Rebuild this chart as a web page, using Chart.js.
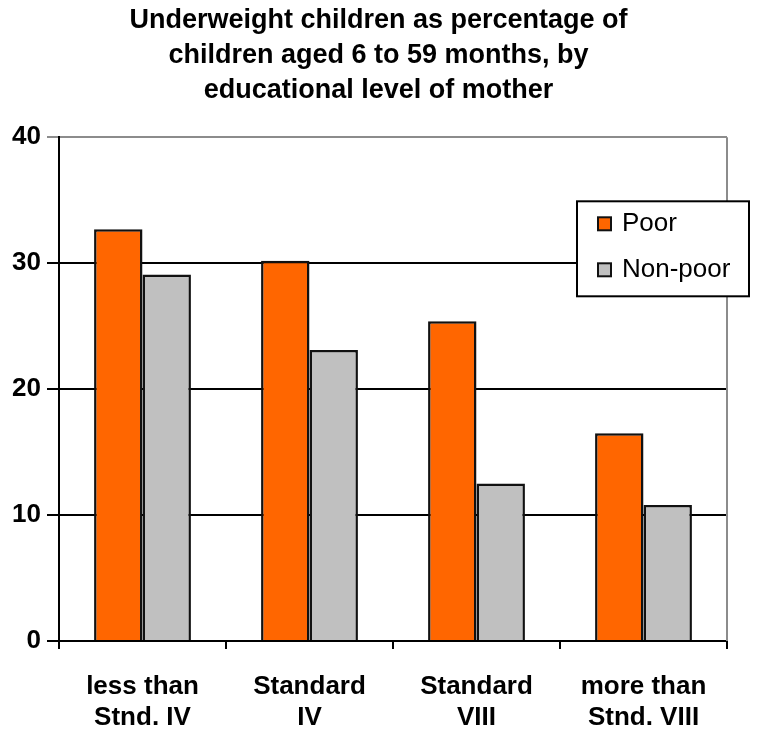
<!DOCTYPE html>
<html>
<head>
<meta charset="utf-8">
<script src="https://cdn.jsdelivr.net/npm/chart.js@4/dist/chart.umd.min.js"></script>
<style>
  body { margin: 0; background: #fff; }
  #wrap { width: 757px; height: 736px; }
</style>
</head>
<body>
<div id="wrap"><canvas id="myChart"></canvas></div>
<script>
// chart data
const titleLines = ['Underweight children as percentage of', 'children aged 6 to 59 months, by', 'educational level of mother'];
const categories = [['less than', 'Stnd. IV'], ['Standard', 'IV'], ['Standard', 'VIII'], ['more than', 'Stnd. VIII']];
const poor = [32.7, 30.2, 25.4, 16.5];
const nonPoor = [29.1, 23.1, 12.5, 10.8];
const seriesNames = ['Poor', 'Non-poor'];
const yTicks = [0, 10, 20, 30, 40];

const font = 'Liberation Sans, Arial, sans-serif';

// draws the gray right border and the boxed legend inside the plot
const frameAndLegend = {
    id: 'frameAndLegend',
    beforeDatasetsDraw(chart) {
        const { ctx, chartArea } = chart;
        ctx.save();
        ctx.strokeStyle = '#8c8c8c';
        ctx.lineWidth = 2;
        ctx.beginPath();
        ctx.moveTo(chartArea.right, chartArea.top);
        ctx.lineTo(chartArea.right, chartArea.bottom);
        ctx.stroke();
        ctx.restore();
    },
    afterDraw(chart) {
        const { ctx, chartArea } = chart;
        const x = chartArea.right - 150, y = chartArea.top + 64;
        const w = 172, h = 95;
        ctx.save();
        ctx.fillStyle = '#fff';
        ctx.fillRect(x, y, w, h);
        ctx.strokeStyle = '#000';
        ctx.lineWidth = 2;
        ctx.strokeRect(x, y, w, h);
        chart.data.datasets.forEach((ds, i) => {
            const cy = y + 23 + i * 46;
            ctx.fillStyle = ds.backgroundColor;
            ctx.fillRect(x + 21, cy - 7, 13, 13);
            ctx.strokeStyle = '#111';
            ctx.lineWidth = 2;
            ctx.strokeRect(x + 21, cy - 7, 13, 13);
            ctx.fillStyle = '#000';
            ctx.font = '26px ' + font;
            ctx.textBaseline = 'middle';
            ctx.fillText(ds.label, x + 45, cy);
        });
        ctx.restore();
    }
};

const config = {
    type: 'bar',
    data: {
        labels: categories,
        datasets: [
            { label: seriesNames[0], data: poor, backgroundColor: '#ff6600', borderColor: '#111', borderWidth: 2.5 },
            { label: seriesNames[1], data: nonPoor, backgroundColor: '#c0c0c0', borderColor: '#111', borderWidth: 2.5 }
        ]
    },
    options: {
        responsive: true,
        maintainAspectRatio: false,
        animation: false,
        layout: { padding: 0 },
        datasets: { bar: { barPercentage: 1, categoryPercentage: 0.58 } },
        plugins: {
            legend: { display: false },
            tooltip: { enabled: false },
            title: {
                display: true,
                text: titleLines,
                color: '#000',
                font: { family: font, size: 27, weight: 'bold', lineHeight: 1.3 },
                padding: { top: 3, bottom: 29 }
            }
        },
        scales: {
            x: {
                grid: { drawOnChartArea: false, drawTicks: true, tickLength: 8, color: '#000', lineWidth: 2 },
                border: { color: '#000', width: 2 },
                ticks: { color: '#000', padding: 22, font: { family: font, size: 26, weight: 'bold', lineHeight: 1.2 } },
                afterFit: axis => { axis.height = 95; }
            },
            y: {
                min: 0,
                max: 40,
                afterBuildTicks: axis => { axis.ticks = yTicks.map(v => ({ value: v })); },
                grid: {
                    color: c => (c.tick && c.tick.value === 40 ? '#8c8c8c' : '#000'),
                    lineWidth: 2,
                    tickLength: 12
                },
                border: { color: '#000', width: 2 },
                ticks: { color: '#000', padding: 6, font: { family: font, size: 26, weight: 'bold' } },
                afterFit: axis => { axis.width = 59; }
            },
            // empty right-hand axis, only keeps a margin so the title centres like the original
            right: {
                position: 'right',
                display: true,
                grid: { display: false },
                border: { display: false },
                ticks: { display: false },
                afterFit: axis => { axis.width = 30; }
            }
        }
    },
    plugins: [frameAndLegend]
};

const myChart = new Chart(document.getElementById('myChart'), config);
</script>
</body>
</html>
